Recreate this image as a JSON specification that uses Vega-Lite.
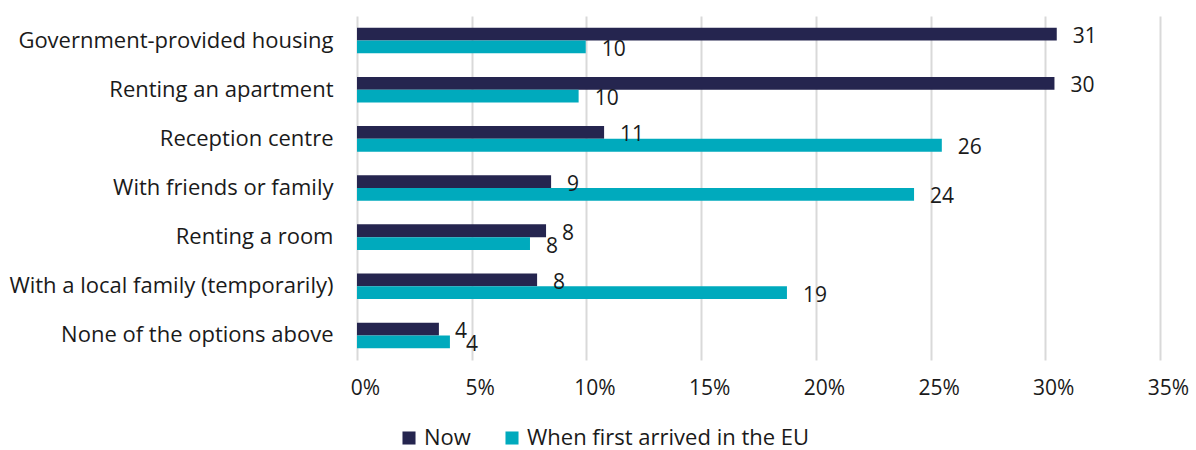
{
  "$schema": "https://vega.github.io/schema/vega-lite/v6.json",
  "width": 803,
  "height": 344,
  "autosize": {"type": "none"},
  "padding": {"left": 357, "top": 16, "right": 36, "bottom": 90},
  "background": "white",
  "config": {
    "font": "Open Sans",
    "view": {"stroke": null},
    "axis": {"labelFont": "Open Sans", "labelColor": "#1a1a1a"},
    "legend": {"labelFont": "Open Sans"}
  },
  "data": {
    "values": [
      {"category": "Government-provided housing", "series": "Now", "value": 30.5, "label": "31"},
      {"category": "Government-provided housing", "series": "When first arrived in the EU", "value": 9.97, "label": "10"},
      {"category": "Renting an apartment", "series": "Now", "value": 30.4, "label": "30"},
      {"category": "Renting an apartment", "series": "When first arrived in the EU", "value": 9.66, "label": "10"},
      {"category": "Reception centre", "series": "Now", "value": 10.77, "label": "11"},
      {"category": "Reception centre", "series": "When first arrived in the EU", "value": 25.49, "label": "26"},
      {"category": "With friends or family", "series": "Now", "value": 8.46, "label": "9"},
      {"category": "With friends or family", "series": "When first arrived in the EU", "value": 24.28, "label": "24"},
      {"category": "Renting a room", "series": "Now", "value": 8.24, "label": "8"},
      {"category": "Renting a room", "series": "When first arrived in the EU", "value": 7.54, "label": "8"},
      {"category": "With a local family (temporarily)", "series": "Now", "value": 7.85, "label": "8"},
      {"category": "With a local family (temporarily)", "series": "When first arrived in the EU", "value": 18.74, "label": "19"},
      {"category": "None of the options above", "series": "Now", "value": 3.57, "label": "4"},
      {"category": "None of the options above", "series": "When first arrived in the EU", "value": 4.05, "label": "4"}
    ]
  },
  "encoding": {
    "y": {
      "field": "category",
      "type": "nominal",
      "sort": null,
      "scale": {"paddingInner": 0.48, "paddingOuter": 0.24},
      "axis": {
        "title": null,
        "ticks": false,
        "domain": false,
        "labelFontSize": 22,
        "labelPadding": 24,
        "labelLimit": 400
      }
    },
    "yOffset": {"field": "series", "type": "nominal", "sort": ["Now", "When first arrived in the EU"]},
    "x": {
      "field": "value",
      "type": "quantitative",
      "scale": {"domain": [0, 35], "nice": false},
      "axis": {
        "title": null,
        "values": [0, 5, 10, 15, 20, 25, 30, 35],
        "labelExpr": "datum.value + '%'",
        "ticks": false,
        "domain": false,
        "grid": true,
        "gridColor": "#d9d9d9",
        "gridWidth": 2,
        "labelFontSize": 21,
        "labelPadding": 17,
        "labelOffset": 8,
        "labelFlush": false
      }
    }
  },
  "layer": [
    {
      "mark": {"type": "bar"},
      "encoding": {
        "color": {
          "field": "series",
          "type": "nominal",
          "scale": {"domain": ["Now", "When first arrived in the EU"], "range": ["#25254f", "#00aabd"]},
          "legend": {
            "title": null,
            "orient": "none",
            "direction": "horizontal",
            "legendX": 41,
            "legendY": 411,
            "symbolType": "square",
            "symbolSize": 170,
            "labelFontSize": 22,
            "labelColor": "#1a1a1a",
            "labelLimit": 400,
            "columnPadding": 30,
            "labelOffset": 4
          }
        }
      }
    },
    {
      "mark": {"type": "text", "align": "left", "baseline": "middle", "dx": 16, "dy": 3, "fontSize": 21, "color": "#1a1a1a"},
      "encoding": {
        "text": {"field": "label"}
      }
    }
  ]
}
